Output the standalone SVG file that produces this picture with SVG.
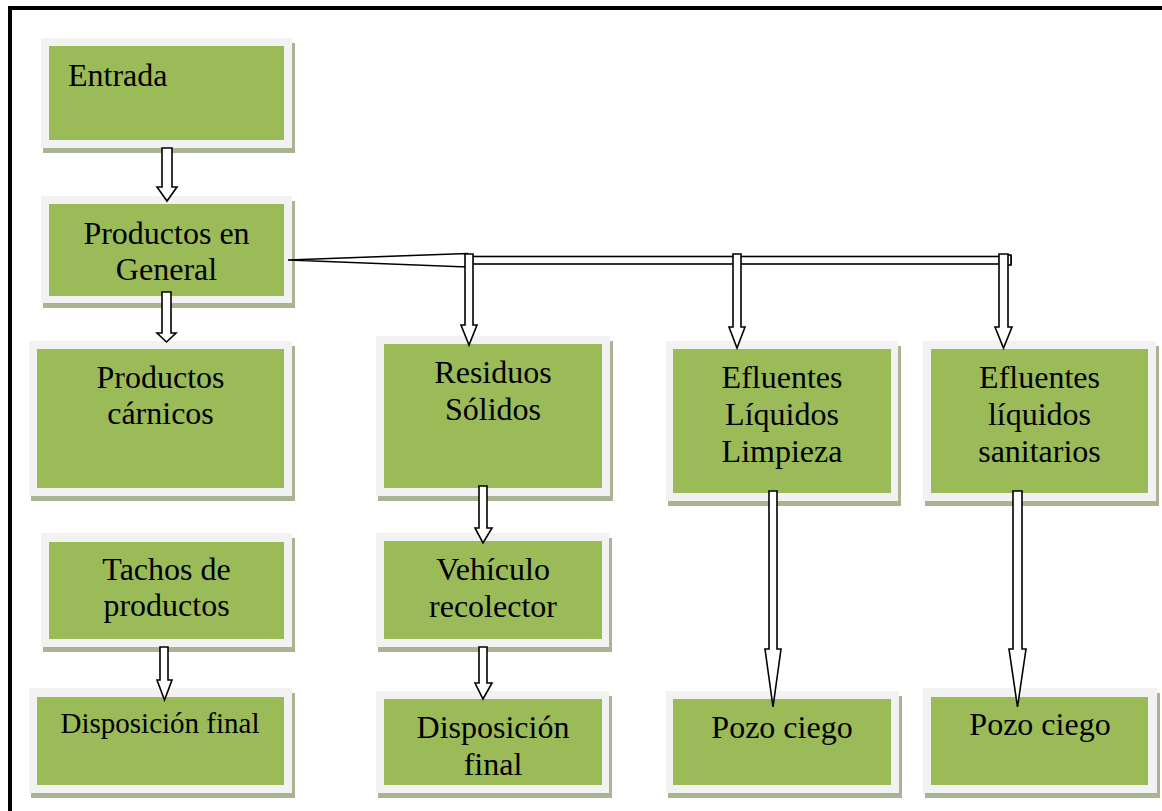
<svg xmlns="http://www.w3.org/2000/svg" width="1162" height="811" viewBox="0 0 1162 811">
<style>
.sh{fill:#a9b493}
.fr{fill:#f2f2f2}
.in{fill:#9bbb59}
.t{font-family:"Liberation Serif","Times New Roman",serif;font-size:32px;fill:#000;text-anchor:middle}
.c{fill:#fff;stroke:#000;stroke-width:1.6;stroke-linejoin:miter}
</style>
<rect width="1162" height="811" fill="#fff"/>
<path d="M10,811 V8 H1162" fill="none" stroke="#000" stroke-width="4"/>

<g id="entrada">
<rect class="sh" x="43" y="43" width="252" height="110"/>
<rect class="fr" x="41" y="38" width="251" height="110"/>
<rect class="in" x="49" y="46" width="235" height="94"/>
<text class="t" x="68" y="86" style="text-anchor:start">Entrada</text>
</g>

<g id="general">
<rect class="sh" x="43" y="201" width="252" height="107"/>
<rect class="fr" x="41" y="196" width="251" height="107"/>
<rect class="in" x="49" y="204" width="235" height="92"/>
<text class="t" x="166.5" y="244">Productos en</text>
<text class="t" x="166.5" y="280">General</text>
</g>

<g id="carnicos">
<rect class="sh" x="31" y="346" width="264" height="155"/>
<rect class="fr" x="29" y="341" width="263" height="155"/>
<rect class="in" x="37" y="349" width="247" height="139"/>
<text class="t" x="160.5" y="388">Productos</text>
<text class="t" x="160.5" y="424">cárnicos</text>
</g>

<g id="tachos">
<rect class="sh" x="43" y="538" width="252" height="114"/>
<rect class="fr" x="41" y="533" width="251" height="114"/>
<rect class="in" x="49" y="542" width="235" height="97"/>
<text class="t" x="166.5" y="580">Tachos de</text>
<text class="t" x="166.5" y="616">productos</text>
</g>

<g id="disposicion1">
<rect class="sh" x="31" y="693" width="264" height="105"/>
<rect class="fr" x="29" y="688" width="263" height="105"/>
<rect class="in" x="37" y="697" width="247" height="88"/>
<text class="t" x="160" y="733" style="font-size:29px">Disposición final</text>
</g>

<g id="residuos">
<rect class="sh" x="378" y="341" width="235" height="160"/>
<rect class="fr" x="376" y="336" width="234" height="160"/>
<rect class="in" x="384" y="344" width="218" height="144"/>
<text class="t" x="493" y="383">Residuos</text>
<text class="t" x="493" y="420">Sólidos</text>
</g>

<g id="vehiculo">
<rect class="sh" x="378" y="538" width="234" height="114"/>
<rect class="fr" x="376" y="533" width="233" height="114"/>
<rect class="in" x="384" y="541" width="218" height="98"/>
<text class="t" x="493" y="580">Vehículo</text>
<text class="t" x="493" y="617">recolector</text>
</g>

<g id="disposicion2">
<rect class="sh" x="378" y="696" width="234" height="102"/>
<rect class="fr" x="376" y="691" width="233" height="102"/>
<rect class="in" x="384" y="699" width="218" height="86"/>
<text class="t" x="493" y="738">Disposición</text>
<text class="t" x="493" y="775">final</text>
</g>

<g id="limpieza">
<rect class="sh" x="668" y="346" width="233" height="160"/>
<rect class="fr" x="666" y="341" width="232" height="160"/>
<rect class="in" x="673" y="349" width="218" height="144"/>
<text class="t" x="782" y="388">Efluentes</text>
<text class="t" x="782" y="425">Líquidos</text>
<text class="t" x="782" y="462">Limpieza</text>
</g>

<g id="sanitarios">
<rect class="sh" x="925" y="346" width="234" height="160"/>
<rect class="fr" x="923" y="341" width="233" height="160"/>
<rect class="in" x="931" y="349" width="217" height="144"/>
<text class="t" x="1039.5" y="388">Efluentes</text>
<text class="t" x="1039.5" y="425">líquidos</text>
<text class="t" x="1039.5" y="462">sanitarios</text>
</g>

<g id="pozo1">
<rect class="sh" x="668" y="696" width="234" height="102"/>
<rect class="fr" x="666" y="691" width="233" height="102"/>
<rect class="in" x="673" y="699" width="218" height="86"/>
<text class="t" x="782" y="738">Pozo ciego</text>
</g>

<g id="pozo2">
<rect class="sh" x="925" y="693" width="235" height="105"/>
<rect class="fr" x="923" y="688" width="234" height="105"/>
<rect class="in" x="931" y="697" width="217" height="88"/>
<text class="t" x="1040" y="735">Pozo ciego</text>
</g>

<g id="connectors">
<path class="c" d="M162,148 H172 V187 H177 L167,201 L157,187 H162 Z"/>
<path class="c" d="M162,292 H171 V333 H176 L166.5,342 L157,333 H162 Z"/>
<path class="c" d="M160,647 H168 V680 H172 L164.5,700 L157,680 H160 Z"/>
<path class="c" d="M479,486 H487 V528 H492 L483,543 L475,528 H479 Z"/>
<path class="c" d="M479,647 H487 V683 H492 L483,699 L475,683 H479 Z"/>
<path class="c" d="M769,491 H777 V649 H781 L773,707 L765,649 H769 Z"/>
<path class="c" d="M1013,491 H1022 V649 H1026 L1017.5,707 L1009,649 H1013 Z"/>
<path class="c" d="M288,260 L467,253.5 V267 Z"/>
<rect class="c" x="467" y="256.5" width="544" height="7.5"/>
<rect class="c" x="1007" y="255" width="4" height="10"/>
<path class="c" d="M465,254 H473 V325 H477 L469,345 L461,325 H465 Z"/>
<path class="c" d="M733,254 H741 V327 H745 L737,348 L729,327 H733 Z"/>
<path class="c" d="M999,254 H1008 V327 H1012 L1003.5,348 L995,327 H999 Z"/>
</g>
</svg>
